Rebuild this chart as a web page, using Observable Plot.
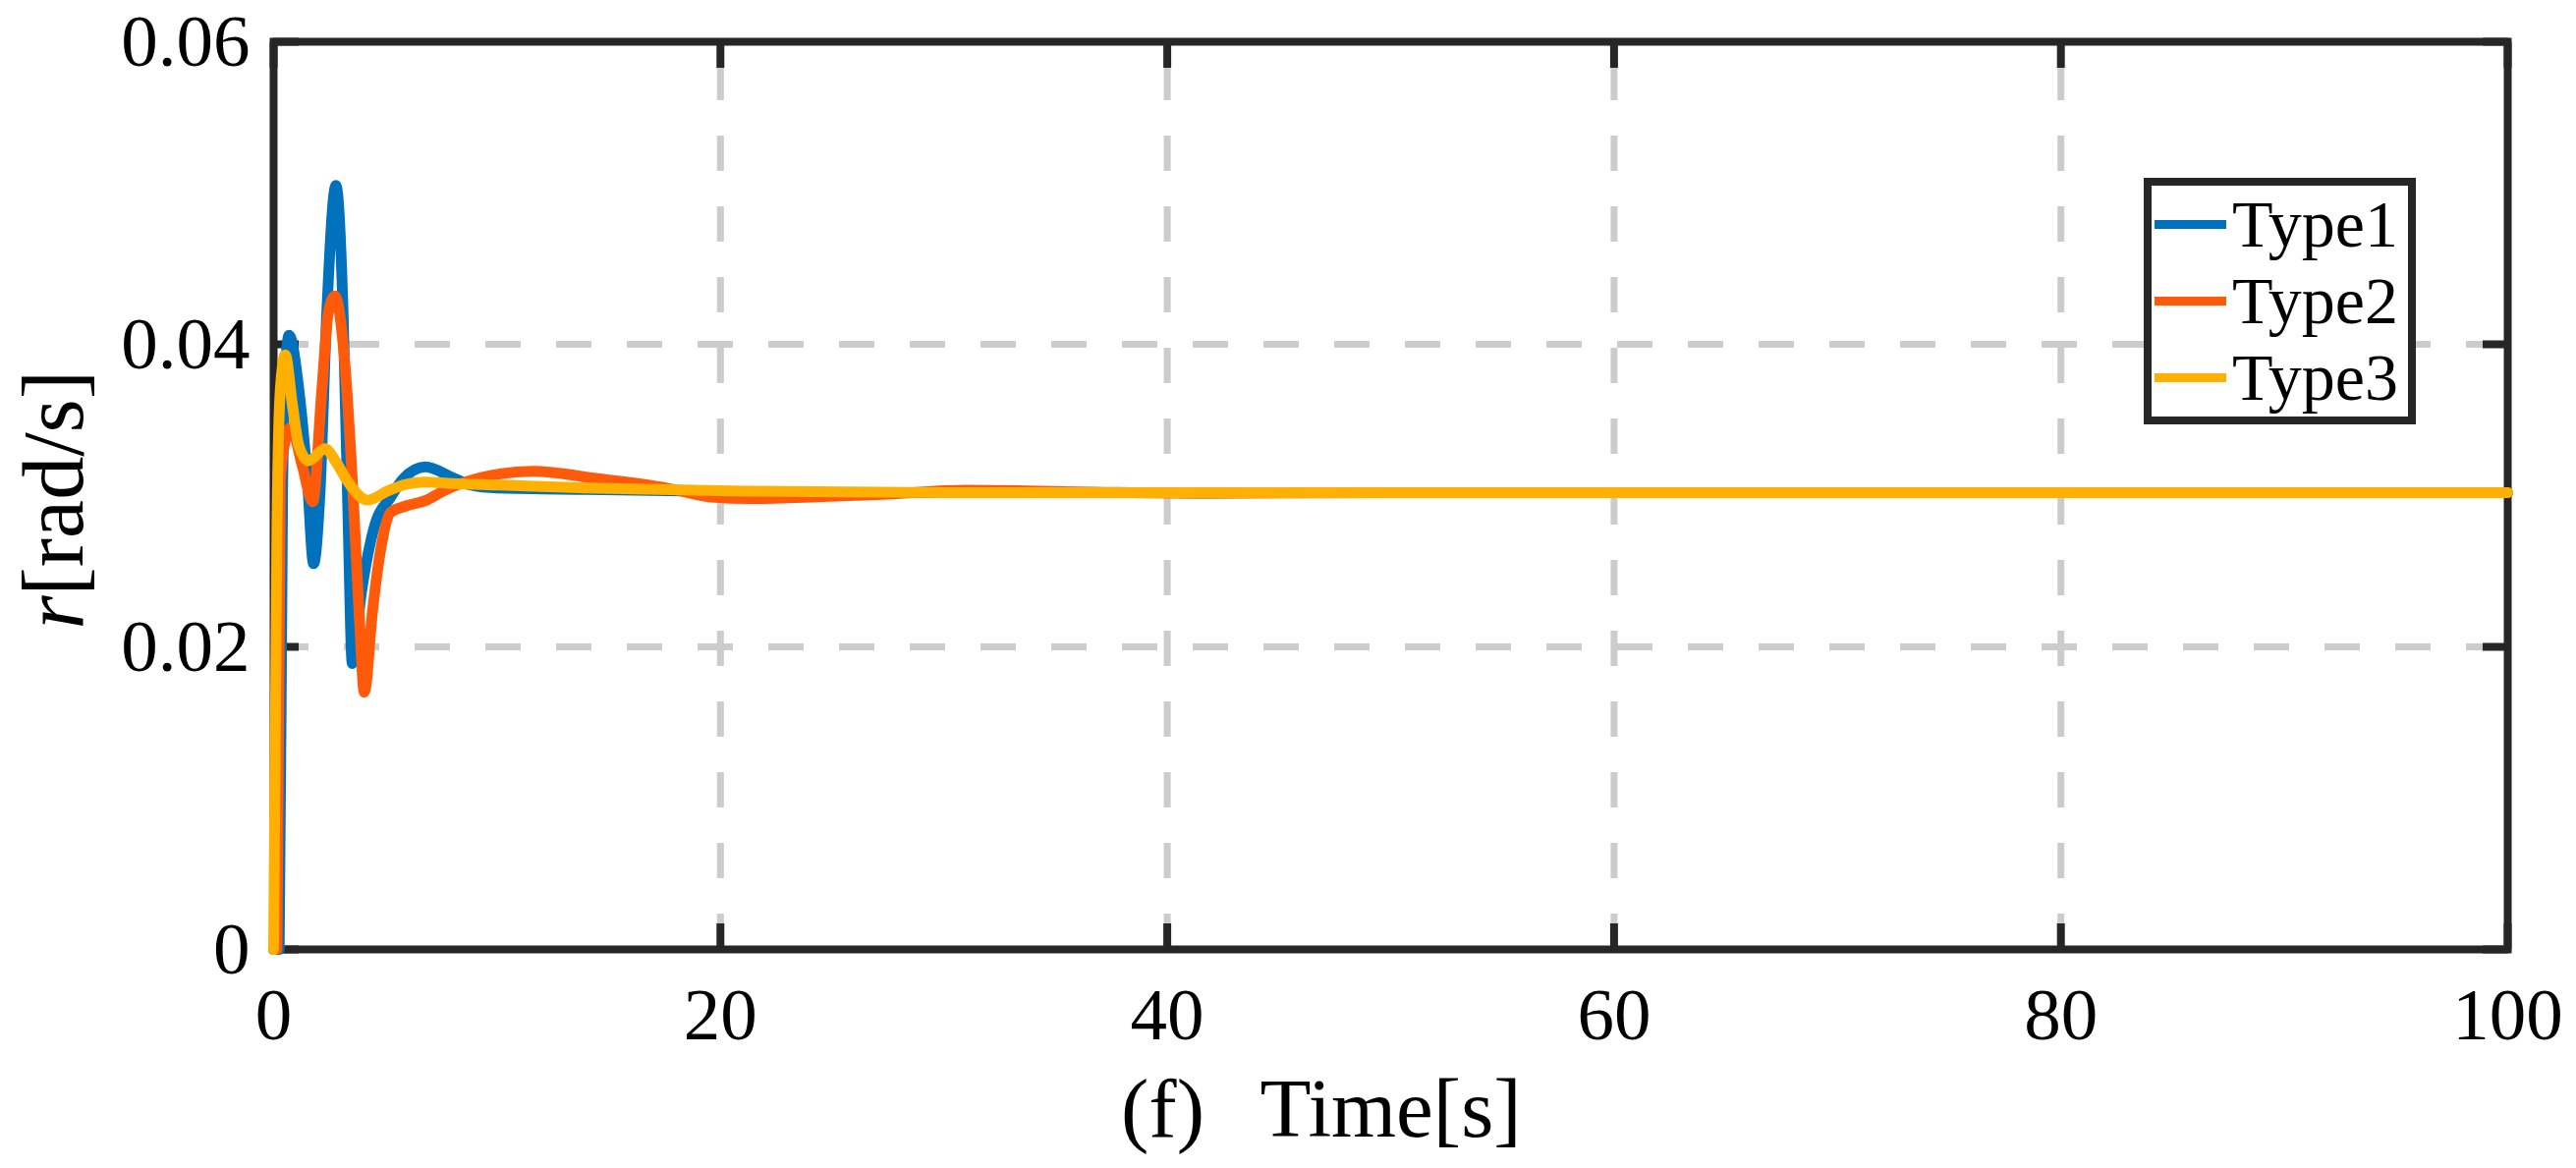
<!DOCTYPE html>
<html><head><meta charset="utf-8">
<script src="https://cdn.jsdelivr.net/npm/d3@7"></script>
<script src="https://cdn.jsdelivr.net/npm/@observablehq/plot@0.6"></script>
<style>
body{margin:0;background:#fff;}
#wrap{position:relative;width:2622px;height:1189px;font-family:"Liberation Serif","Times New Roman",serif;}
#legend{position:absolute;left:2182px;top:181px;width:277px;height:251px;box-sizing:border-box;border:8px solid #262626;background:#fff;}
.row{display:flex;align-items:center;height:78px;}
.sw{width:73px;height:9px;margin-left:3px;}
.lab{margin-left:6px;font-size:68px;color:#000;line-height:1;}
</style></head><body><div id="wrap"></div>
<script>
const xTicks = [0, 20, 40, 60, 80, 100];
const yTicks = [0, 0.02, 0.04, 0.06];
const yTickLabels = ["0", "0.02", "0.04", "0.06"];
const xGrid = [20, 40, 60, 80];
const yGrid = [0.02, 0.04];
const seriesNames = ["Type1", "Type2", "Type3"];
const seriesColors = ["#0072BD", "#FF5A0A", "#FFB000"];

const t1 = [0, 0.25, 0.4, 0.52, 0.69, 1.13, 1.5, 1.79, 2.08, 2.38, 2.79, 3.11, 3.33, 3.52, 3.92, 4.5, 5.24, 5.8, 6.78, 8, 8.8, 10, 14, 19, 25, 35, 50, 100];
const v1 = [0, 0, 0.03, 0.038, 0.0406, 0.037, 0.0313, 0.0255, 0.0303, 0.0421, 0.0505, 0.0421, 0.0286, 0.0189, 0.0235, 0.0279, 0.0299, 0.0311, 0.0319, 0.0312, 0.0307, 0.0305, 0.0304, 0.0303, 0.0302, 0.0302, 0.0302, 0.0302];

const t2 = [0, 0.15, 0.3, 0.5, 0.77, 1.28, 1.75, 2.16, 2.45, 2.74, 3.19, 3.55, 3.84, 4.06, 4.43, 4.8, 5.24, 5.9, 6.85, 7.6, 9.3, 11.6, 14.6, 17.6, 19.6, 21.3, 24, 27.5, 31, 36, 42, 50, 100];
const v2 = [0, 0, 0.031, 0.0335, 0.0345, 0.032, 0.0296, 0.037, 0.0421, 0.0432, 0.0387, 0.0303, 0.0218, 0.017, 0.0224, 0.0265, 0.0289, 0.0293, 0.0297, 0.0303, 0.0312, 0.0316, 0.0311, 0.0305, 0.0299, 0.0298, 0.0299, 0.0301, 0.03035, 0.03025, 0.03015, 0.0302, 0.0302];

const t3 = [0, 0.15, 0.3, 0.52, 0.84, 1.13, 1.57, 2.3, 2.8, 3.33, 4.2, 5.1, 5.8, 6.75, 8, 10, 14, 21, 30, 50, 100];
const v3 = [0, 0.028, 0.037, 0.0393, 0.036, 0.0333, 0.0323, 0.0331, 0.0322, 0.0309, 0.0297, 0.0303, 0.0307, 0.0309, 0.0308, 0.0307, 0.0305, 0.0303, 0.0302, 0.0302, 0.0302];

const times = [t1, t2, t3];
const values = [v1, v2, v3];
const data = [];
seriesNames.forEach((s, k) => times[k].forEach((t, i) => data.push({t, v: values[k][i], s})));

const gridStyle = {stroke: "#cccccc", strokeWidth: 7, strokeDasharray: "36,36"};
const chart = Plot.plot({
  width: 2622, height: 1189,
  marginLeft: 278, marginRight: 70, marginTop: 42, marginBottom: 223,
  x: {domain: [0, 100]},
  y: {domain: [0, 0.06]},
  color: {domain: seriesNames, range: seriesColors},
  style: {fontFamily: "'Liberation Serif','Times New Roman',serif", fontSize: "75px", color: "#262626", background: "#fff", maxWidth: "none", overflow: "visible"},
  marks: [
    Plot.ruleX(xGrid, {x: d => d, y1: 0, y2: 0.06, ...gridStyle}),
    Plot.ruleY(yGrid, {y: d => d, x1: 0, x2: 100, ...gridStyle}),
    Plot.frame({stroke: "#262626", strokeWidth: 8}),
    Plot.axisX({anchor: "bottom", ticks: xTicks, tickSize: -26, tickPadding: 64, strokeWidth: 8, label: null, tickFormat: d => String(d), fill: "#000"}),
    Plot.axisX({anchor: "top", ticks: xTicks, tickSize: -26, strokeWidth: 8, label: null, tickFormat: () => ""}),
    Plot.axisY({anchor: "left", ticks: yTicks, tickSize: -26, tickPadding: 50, strokeWidth: 8, label: null, tickFormat: d => yTickLabels[yTicks.indexOf(d)], fill: "#000"}),
    Plot.axisY({anchor: "right", ticks: yTicks, tickSize: -26, strokeWidth: 8, label: null, tickFormat: () => ""}),
    Plot.line(data, {x: "t", y: "v", z: "s", stroke: "s", strokeWidth: 11, curve: "monotone-x", strokeLinejoin: "round", strokeLinecap: "round"}),
    Plot.text(["Time[s]"], {x: 50, frameAnchor: "bottom", dy: 190, lineAnchor: "bottom", fontSize: 85, fill: "#000"}),
    Plot.text(["(f)"], {x: 50, frameAnchor: "bottom", dx: -232, dy: 190, lineAnchor: "bottom", fontSize: 85, fill: "#000"}),
    Plot.text(["r"], {frameAnchor: "left", rotate: -90, textAnchor: "start", lineAnchor: "bottom", dx: -194.6, dy: 136, fontSize: 88, fontStyle: "italic", fill: "#000"}),
    Plot.text(["[rad/s]"], {frameAnchor: "left", rotate: -90, textAnchor: "start", lineAnchor: "bottom", dx: -194.6, dy: 102, fontSize: 88, fill: "#000"})
  ]
});
const wrap = document.getElementById("wrap");
wrap.appendChild(chart);
const legend = document.createElement("div");
legend.id = "legend";
seriesNames.forEach((s, k) => {
  const row = document.createElement("div");
  row.className = "row";
  const sw = document.createElement("span");
  sw.className = "sw";
  sw.style.background = seriesColors[k];
  const lab = document.createElement("span");
  lab.className = "lab";
  lab.textContent = s;
  row.appendChild(sw); row.appendChild(lab);
  legend.appendChild(row);
});
wrap.appendChild(legend);
</script></body></html>
